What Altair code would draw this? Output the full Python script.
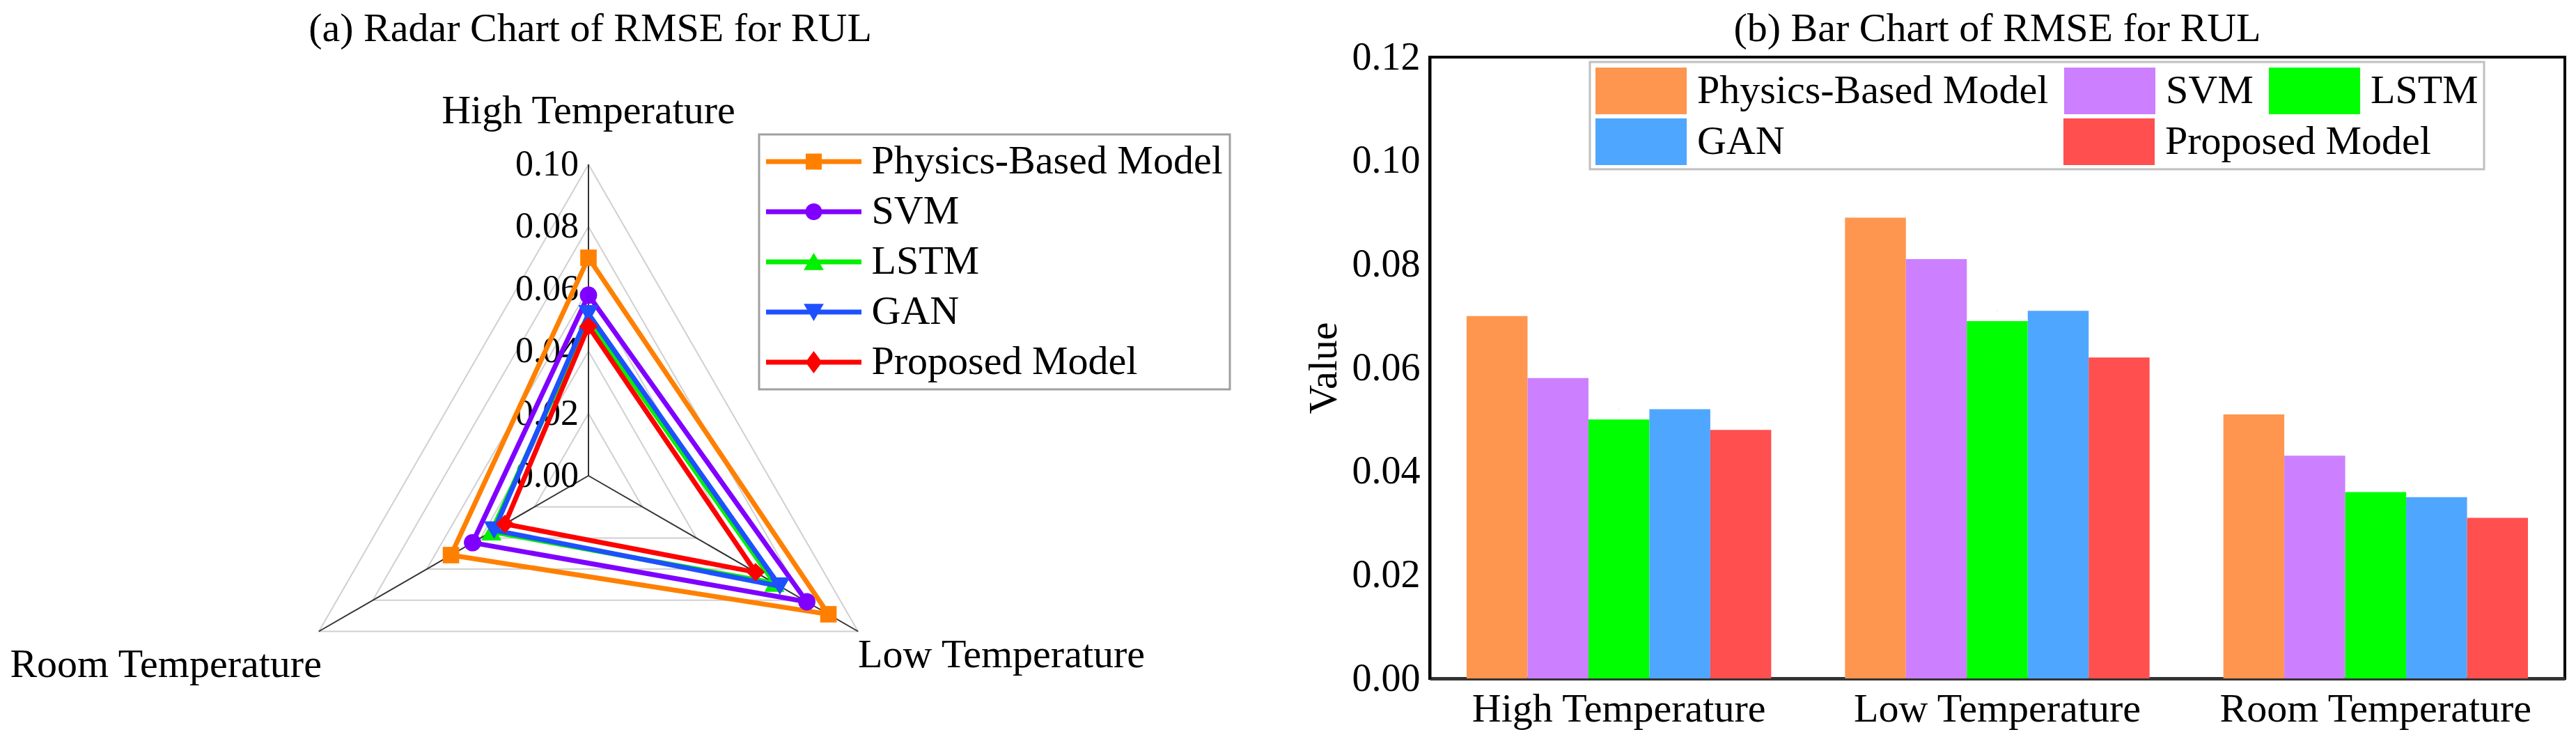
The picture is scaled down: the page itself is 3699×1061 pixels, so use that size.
import altair as alt
import pandas as pd

categories = ["High Temperature", "Low Temperature", "Room Temperature"]
models = ["Physics-Based Model", "SVM", "LSTM", "GAN", "Proposed Model"]
high_temp = [0.070, 0.058, 0.050, 0.052, 0.048]
low_temp = [0.089, 0.081, 0.069, 0.071, 0.062]
room_temp = [0.051, 0.043, 0.036, 0.035, 0.031]
radial_ticks = [0.00, 0.02, 0.04, 0.06, 0.08, 0.10]
bar_ticks = [0.00, 0.02, 0.04, 0.06, 0.08, 0.10, 0.12]

FONT = "Liberation Serif"
line_colors = ["#FF8000", "#8000FF", "#00F000", "#1E50FF", "#FF0000"]
bar_colors = ["#FF964F", "#CC80FF", "#00FF00", "#4FA6FF", "#FF4F4F"]
marker_shapes = ["square", "circle", "triangle-up", "triangle-down", "diamond"]
marker_sizes = [560, 620, 850, 850, 700]
# legend symbols: a short line with the marker in the middle (path unit = 29 px)
LINE = "M-2.362,-0.12H2.362V0.12H-2.362Z"
legend_paths = [
    LINE + "M-0.397,-0.397H0.397V0.397H-0.397Z",
    LINE + "M-0.413,0A0.413,0.413,0,1,1,0.413,0A0.413,0.413,0,1,1,-0.413,0Z",
    LINE + "M0,-0.449L0.496,0.402H-0.496Z",
    LINE + "M0,0.449L-0.496,-0.402H0.496Z",
    LINE + "M0,-0.553L0.413,0L0,0.553L-0.413,0Z",
]
# bar legend swatch, 131 x 67 px (path unit = 33.5 px)
SWATCH = "M-1.955,-1H1.955V1H-1.955Z"

values = {"High Temperature": high_temp, "Low Temperature": low_temp, "Room Temperature": room_temp}

# ---------- radar ----------
K = 4470.0            # px per unit of RMSE
W1, H = 1765, 892
CX, CY = 836, 601     # centre of the radar inside the plot area
xs = alt.Scale(domain=[-CX / K, (W1 - CX) / K], nice=False, zero=False)
ys = alt.Scale(domain=[-(H - CY) / K, CY / K], nice=False, zero=False)
polar = dict(
    px="datum.Value * cos(PI / 2 - 2 * PI * datum.pos / 3)",
    py="datum.Value * sin(PI / 2 - 2 * PI * datum.pos / 3)",
)
X = alt.X("px:Q", scale=xs, axis=None)
Y = alt.Y("py:Q", scale=ys, axis=None)

radar_rows = []
for i, m in enumerate(models):
    for pos, c in enumerate(categories + categories[:1]):
        radar_rows.append({"Model": m, "Category": c, "pos": pos, "Value": values[c][i]})
radar_df = pd.DataFrame(radar_rows)

grid_df = pd.DataFrame(
    [{"Level": lv, "pos": p, "Value": lv} for lv in radial_ticks[1:] for p in range(4)]
)
spoke_df = pd.DataFrame({"Category": categories, "pos": [0, 1, 2], "Value": radial_ticks[-1]})
tick_df = pd.DataFrame({"Value": radial_ticks, "pos": 0})

color_scale = alt.Scale(domain=models, range=line_colors)
radar_legend = alt.Legend(
    title=None, orient="none", legendX=1081, legendY=111,
    symbolSize=3364, symbolOffset=39.5, symbolStrokeWidth=0, symbolOpacity=1,
    labelFont=FONT, labelFontSize=58, labelColor="black", labelOffset=54, labelLimit=1000,
    rowPadding=14, padding=10, strokeColor="#a0a0a0", fillColor="white",
)

grid = (
    alt.Chart(grid_df)
    .transform_calculate(**polar)
    .mark_line(color="#d0d0d0", strokeWidth=2)
    .encode(x=X, y=Y, detail="Level:N", order="pos:Q")
)
spokes = (
    alt.Chart(spoke_df)
    .transform_calculate(**polar)
    .mark_rule(color="#333333", strokeWidth=2)
    .encode(x=X, y=Y, x2=alt.datum(0), y2=alt.datum(0))
)
tick_text = (
    alt.Chart(tick_df)
    .transform_calculate(**polar)
    .mark_text(align="right", baseline="middle", dx=-14, fontSize=52, font=FONT, color="black")
    .encode(x=X, y=Y, text=alt.Text("Value:Q", format=".2f"))
)
# tiny points that only carry the legend; placed before the series layers so its legend is kept
legend_layer = (
    alt.Chart(radar_df)
    .transform_filter(alt.datum.pos == 0)
    .transform_calculate(**polar)
    .mark_point(filled=True, size=1)
    .encode(
        x=X,
        y=Y,
        color=alt.Color("Model:N", scale=color_scale, legend=radar_legend),
        shape=alt.Shape("Model:N", scale=alt.Scale(domain=models, range=legend_paths), legend=radar_legend),
    )
)

model_layers = []
for m, shp, sz in zip(models, marker_shapes, marker_sizes):
    base = alt.Chart(radar_df).transform_filter(alt.datum.Model == m).transform_calculate(**polar)
    model_layers.append(
        base.mark_line(strokeWidth=7).encode(
            x=X, y=Y, order="pos:Q", color=alt.Color("Model:N", scale=color_scale, legend=None)
        )
    )
    model_layers.append(
        base.transform_filter(alt.datum.pos < 3)
        .mark_point(shape=shp, size=sz, filled=True, opacity=1)
        .encode(x=X, y=Y, color=alt.Color("Model:N", scale=color_scale, legend=None))
    )

label_style = {
    "High Temperature": dict(align="center", dy=-59),
    "Low Temperature": dict(align="left", dy=51),
    "Room Temperature": dict(align="right", dx=4, dy=65),
}
cat_labels = []
for c in categories:
    cat_labels.append(
        alt.Chart(spoke_df)
        .transform_filter(alt.datum.Category == c)
        .transform_calculate(**polar)
        .mark_text(baseline="alphabetic", fontSize=58, font=FONT, color="black", **label_style[c])
        .encode(x=X, y=Y, text="Category:N")
    )

radar = alt.layer(grid, spokes, tick_text, legend_layer, *model_layers, *cat_labels).properties(
    width=W1,
    height=H,
    title=alt.TitleParams("(a) Radar Chart of RMSE for RUL", anchor="middle", fontSize=58,
                          font=FONT, fontWeight="normal", offset=11, dx=-44),
    view=alt.ViewBackground(stroke="transparent"),
)

# ---------- bars ----------
bar_df = pd.DataFrame(
    [{"Category": c, "Model": m, "Value": values[c][i]} for c in categories for i, m in enumerate(models)]
)
legend_common = dict(
    orient="none", symbolType=SWATCH, symbolSize=4489, symbolOffset=32, symbolStrokeWidth=0,
    symbolOpacity=1, labelFont=FONT, labelFontSize=58, labelColor="black", labelOffset=47,
    labelLimit=1000, direction="horizontal",
)
# first legend row carries the frame; its blank bottom title leaves room for the second row
row1_legend = alt.Legend(
    title=" ", values=models[:3], columns=3, columnPadding=22, padding=8, legendX=230, legendY=7,
    strokeColor="#c0c0c0", titleOrient="bottom", titlePadding=13, titleFontSize=58,
    **legend_common,
)
row2_legend = alt.Legend(
    title=None, columns=2, columnPadding=400, padding=0, legendX=238, legendY=88,
    **legend_common,
)

x_enc = alt.X(
    "Category:N", sort=categories,
    scale=alt.Scale(paddingInner=0.195, paddingOuter=0.0975),
    axis=alt.Axis(title=None, labelAngle=0, labelFontSize=58, labelPadding=15, tickSize=0,
                  labelLimit=1000, domainColor="#333333", domainWidth=5),
)
y_enc = alt.Y(
    "Value:Q", scale=alt.Scale(domain=[0, 0.12], nice=False),
    axis=alt.Axis(values=bar_ticks, format=".2f", title="Value", grid=False, labelFontSize=56,
                  labelPadding=14, tickSize=0, titleFontSize=58, titleFontWeight="normal",
                  titleX=-152, titleBaseline="middle", domainColor="black", domainWidth=4),
)
bars = (
    alt.Chart(bar_df)
    .mark_bar()
    .encode(
        x=x_enc,
        xOffset=alt.XOffset("Model:N", sort=models, scale=alt.Scale(paddingInner=0, paddingOuter=0)),
        y=y_enc,
        color=alt.Color("Model:N", scale=alt.Scale(domain=models, range=bar_colors), legend=row1_legend),
    )
)
bar_legend_row2 = (
    alt.Chart(bar_df)
    .transform_filter(alt.FieldOneOfPredicate(field="Model", oneOf=models[3:]))
    .mark_point(filled=True, size=1)
    .encode(
        x=x_enc,
        y=y_enc,
        fill=alt.Fill("Model:N", scale=alt.Scale(domain=models[3:], range=bar_colors[3:]),
                      legend=row2_legend),
    )
)
bar_chart = alt.layer(bars, bar_legend_row2).properties(
    width=1630,
    height=H,
    title=alt.TitleParams("(b) Bar Chart of RMSE for RUL", anchor="middle", fontSize=58,
                          font=FONT, fontWeight="normal", offset=-17),
    view=alt.ViewBackground(stroke="black", strokeWidth=4),
)

chart = (
    alt.hconcat(radar, bar_chart, spacing=95)
    .resolve_scale(color="independent", shape="independent", fill="independent")
    .resolve_legend(color="independent", shape="independent", fill="independent")
    .properties(padding={"left": 0, "top": 3, "right": 0, "bottom": 0})
    .configure(font=FONT)
    .configure_axis(labelColor="black", titleColor="black", labelFont=FONT, titleFont=FONT)
    .configure_legend(strokeWidth=3)
)

chart.save("out.html", embed_options={"renderer": "svg", "actions": False})
